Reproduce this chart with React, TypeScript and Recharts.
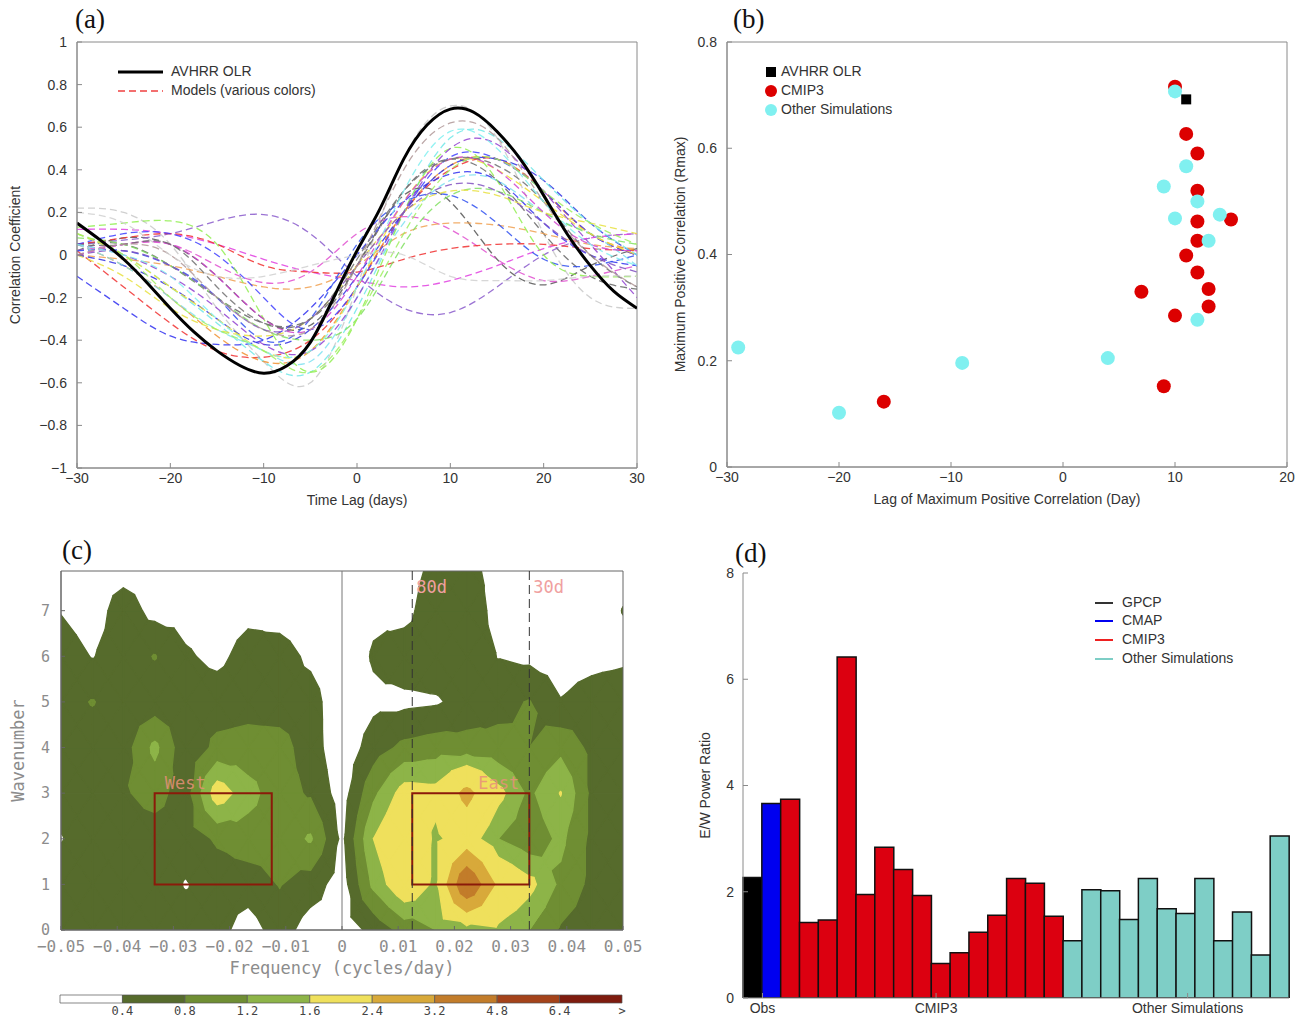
import React from 'react';
import * as R from 'recharts';

const RR: any = R;
const { LineChart, Line, XAxis, YAxis, ScatterChart, Scatter, BarChart, Bar, Cell, ReferenceLine, ReferenceArea, Label } = RR;

const SANS = '"Liberation Sans", Arial, Helvetica, sans-serif';
const MONO = '"DejaVu Sans Mono", monospace';
const SERIF = '"Liberation Serif", "Times New Roman", serif';
const TXT = '#333';
const FRAME = '#8a8a8a';
const fmt = (v: number) => String(v).replace('-', '\u2212');

// ---------------- Panel (a) data ----------------
const lagFine = [-30, -27.5, -25, -22.5, -20, -17.5, -15, -12.5, -10, -7.5, -5, -2.5, 0, 2.5, 5, 7.5, 10, 12.5, 15, 17.5, 20, 22.5, 25, 27.5, 30];
const avhrrOLR = [0.15, 0.07, -0.02, -0.13, -0.25, -0.36, -0.45, -0.52, -0.555, -0.52, -0.41, -0.2, 0.02, 0.22, 0.45, 0.61, 0.685, 0.67, 0.58, 0.45, 0.28, 0.1, -0.05, -0.17, -0.25];
const lagCoarse = [-30, -25, -20, -15, -10, -5, 0, 5, 10, 15, 20, 25, 30];
const m01 = [0.22, 0.2, 0.05, -0.25, -0.5, -0.6, -0.15, 0.45, 0.7, 0.55, 0.1, -0.2, -0.25];
const m02 = [0.02, 0.08, 0.05, -0.1, -0.3, -0.33, -0.05, 0.28, 0.25, -0.02, -0.14, -0.05, 0.03];
const m03 = [0.05, 0.05, -0.05, -0.2, -0.32, -0.3, -0.05, 0.3, 0.45, 0.35, 0.1, -0.1, -0.16];
const m04 = [0.05, 0.07, 0.1, 0.16, 0.19, 0.1, -0.1, -0.25, -0.27, -0.15, 0.0, 0.08, 0.1];
const m05 = [0.12, 0.12, 0.1, 0.05, -0.02, -0.08, -0.12, -0.15, -0.12, -0.05, 0.03, 0.08, 0.1];
const m06 = [0.02, 0.05, 0.05, -0.05, -0.13, -0.08, 0.1, 0.18, 0.12, -0.02, -0.12, -0.1, -0.05];
const m07 = [0.05, 0.08, 0.1, 0.05, -0.05, -0.08, -0.08, -0.02, 0.03, 0.05, 0.05, 0.03, 0.02];
const m08 = [0.02, -0.15, -0.32, -0.45, -0.48, -0.4, -0.15, 0.2, 0.4, 0.45, 0.3, 0.1, 0.0];
const m09 = [0.0, -0.02, -0.05, -0.1, -0.15, -0.15, -0.05, 0.1, 0.15, 0.14, 0.1, 0.05, 0.03];
const m10 = [0.05, -0.05, -0.2, -0.38, -0.5, -0.45, -0.15, 0.2, 0.42, 0.45, 0.3, 0.1, 0.02];
const m11 = [-0.1, -0.25, -0.38, -0.42, -0.4, -0.25, 0.0, 0.25, 0.38, 0.35, 0.15, 0.0, -0.05];
const m12 = [0.05, 0.1, 0.1, 0.0, -0.2, -0.35, -0.15, 0.2, 0.46, 0.45, 0.3, 0.1, 0.0];
const m13 = [0.02, 0.02, -0.05, -0.2, -0.4, -0.3, 0.05, 0.25, 0.28, 0.15, -0.02, -0.05, 0.0];
const m14 = [0.0, -0.05, -0.15, -0.3, -0.42, -0.35, -0.1, 0.2, 0.42, 0.45, 0.35, 0.15, 0.0];
const m15 = [0.1, 0.0, -0.15, -0.32, -0.5, -0.55, -0.25, 0.2, 0.55, 0.55, 0.35, 0.15, 0.0];
const m16 = [0.05, -0.05, -0.2, -0.35, -0.45, -0.5, -0.2, 0.15, 0.35, 0.35, 0.2, 0.1, -0.05];
const m17 = [0.13, 0.15, 0.16, 0.05, -0.3, -0.55, -0.3, 0.2, 0.5, 0.35, 0.0, -0.1, -0.1];
const m18 = [0.08, 0.05, -0.05, -0.2, -0.35, -0.4, -0.3, 0.05, 0.28, 0.3, 0.2, 0.1, 0.05];
const m19 = [0.0, -0.1, -0.25, -0.35, -0.38, -0.3, -0.05, 0.2, 0.3, 0.28, 0.2, 0.15, 0.1];
const m20 = [0.1, 0.0, -0.15, -0.3, -0.45, -0.45, -0.15, 0.25, 0.45, 0.4, 0.25, 0.1, 0.0];
const m21 = [0.05, 0.0, -0.1, -0.25, -0.42, -0.45, -0.2, 0.2, 0.5, 0.52, 0.3, 0.05, -0.2];
const m22 = [0.0, 0.02, -0.05, -0.2, -0.35, -0.3, -0.05, 0.2, 0.33, 0.3, 0.15, 0.0, -0.08];
const m23 = [0.0, 0.05, 0.05, -0.1, -0.3, -0.35, -0.1, 0.25, 0.45, 0.4, 0.2, 0.05, 0.02];
const m24 = [0.05, 0.05, 0.05, -0.15, -0.32, -0.3, -0.02, 0.3, 0.45, 0.42, 0.25, 0.0, -0.15];
const m25 = [0.0, 0.05, 0.0, -0.2, -0.35, -0.35, -0.05, 0.4, 0.62, 0.55, 0.25, 0.0, -0.15];
const m26 = [0.05, 0.0, -0.1, -0.3, -0.45, -0.45, -0.15, 0.3, 0.58, 0.5, 0.25, 0.05, -0.05];
const m27 = [0.1, 0.0, -0.2, -0.35, -0.45, -0.55, -0.3, 0.1, 0.4, 0.45, 0.3, 0.15, 0.05];
const m28 = [0.2, 0.15, 0.0, -0.1, -0.1, -0.05, 0.0, 0.0, -0.1, -0.12, -0.12, -0.1, -0.1];
const modelSeries = [m01, m02, m03, m04, m05, m06, m07, m08, m09, m10, m11, m12, m13, m14, m15, m16, m17, m18, m19, m20, m21, m22, m23, m24, m25, m26, m27, m28];
const modelColors = ['#c8c8c8', '#555555', '#666666', '#8a5acb', '#e040e0', '#e050d0', '#f03030', '#f03030', '#f0a050', '#f09030', '#3030f0', '#4040ff', '#3050f0', '#3030e0', '#70e8e8', '#80e0f0', '#90ee50', '#80e060', '#e8e040', '#f0e030', '#9040d0', '#8050c0', '#d040d0', '#707070', '#b09898', '#80f0f0', '#a0f060', '#d0d0d0'];
const xTicksA = [-30, -20, -10, 0, 10, 20, 30];
const yTicksA = [-1, -0.8, -0.6, -0.4, -0.2, 0, 0.2, 0.4, 0.6, 0.8, 1];

const panelAData = lagFine.map((lag, i) => {
  const row: any = { lag, obs: avhrrOLR[i] };
  const j = lagCoarse.indexOf(lag);
  if (j >= 0) modelSeries.forEach((s, k) => { row['m' + k] = s[j]; });
  return row;
});

// ---------------- Panel (b) data ----------------
const obsLag = [11];
const obsRmax = [0.692];
const cmip3Lag = [10, 11, 12, 12, 12, 15, 12, 11, 12, 7, 13, 13, 10, 9, -16];
const cmip3Rmax = [0.716, 0.627, 0.59, 0.52, 0.462, 0.466, 0.426, 0.398, 0.366, 0.33, 0.335, 0.302, 0.285, 0.152, 0.123];
const otherLag = [10, 11, 9, 12, 10, 14, 13, 12, -29, -9, 4, -20];
const otherRmax = [0.707, 0.566, 0.528, 0.5, 0.468, 0.475, 0.426, 0.277, 0.225, 0.196, 0.205, 0.102];
const xTicksB = [-30, -20, -10, 0, 10, 20];
const yTicksB = [0, 0.2, 0.4, 0.6, 0.8];
const obsPts = obsLag.map((x, i) => ({ lag: x, r: obsRmax[i] }));
const cmip3Pts = cmip3Lag.map((x, i) => ({ lag: x, r: cmip3Rmax[i] }));
const otherPts = otherLag.map((x, i) => ({ lag: x, r: otherRmax[i] }));

// ---------------- Panel (c) data ----------------
const freqs = [-0.05, -0.0444, -0.0389, -0.0333, -0.0278, -0.0222, -0.0167, -0.0111, -0.0056, 0, 0.0056, 0.0111, 0.0167, 0.0222, 0.0278, 0.0333, 0.0389, 0.0444, 0.05];
const waves = [0, 1, 2, 3, 4, 5, 6, 7, 8];
const powerW0 = [0.6, 0.6, 0.6, 0.6, 0.6, 0.55, 0.2, 0.6, 0.2, 0.2, 0.5, 0.95, 1.2, 1.35, 1.5, 1.2, 0.75, 0.6, 0.55];
const powerW1 = [0.6, 0.65, 0.65, 0.65, 0.37, 0.6, 0.6, 0.82, 0.6, 0.2, 1.3, 2.0, 1.5, 4.0, 2.2, 1.75, 1.1, 0.7, 0.6];
const powerW2 = [0.38, 0.6, 0.6, 0.6, 0.6, 0.85, 1.0, 0.95, 1.25, 0.3, 1.6, 2.2, 1.5, 1.9, 1.2, 0.9, 1.3, 0.7, 0.6];
const powerW3 = [0.55, 0.6, 0.75, 0.95, 0.6, 1.85, 1.35, 0.95, 0.75, 0.2, 1.1, 1.8, 1.75, 2.6, 1.75, 1.1, 1.62, 0.7, 0.6];
const powerW4 = [0.6, 0.6, 0.6, 1.3, 0.5, 0.9, 0.95, 0.95, 0.6, 0.1, 0.6, 0.9, 1.0, 0.95, 0.9, 0.8, 1.08, 0.7, 0.65];
const powerW5 = [0.65, 0.82, 0.6, 0.56, 0.6, 0.6, 0.65, 0.6, 0.6, 0.05, 0.3, 0.3, 0.35, 0.55, 0.7, 0.82, 0.42, 0.6, 0.7];
const powerW6 = [0.6, 0.38, 0.6, 0.82, 0.45, 0.3, 0.55, 0.6, 0.3, 0.05, 0.45, 0.65, 0.65, 0.7, 0.38, 0.3, 0.2, 0.25, 0.3];
const powerW7 = [0.38, 0.2, 0.6, 0.27, 0.25, 0.2, 0.3, 0.2, 0.1, 0.05, 0.3, 0.25, 0.7, 0.75, 0.2, 0.2, 0.2, 0.2, 0.41];
const powerW8 = [0.2, 0.2, 0.2, 0.2, 0.2, 0.2, 0.2, 0.2, 0.1, 0.05, 0.2, 0.2, 0.5, 0.55, 0.2, 0.2, 0.2, 0.2, 0.3];
const powerGrid = [powerW0, powerW1, powerW2, powerW3, powerW4, powerW5, powerW6, powerW7, powerW8];
const bandLevels = [0.4, 0.8, 1.2, 1.6, 2.4, 3.2, 4.8, 6.4];
const bandColors = ['#566b2c', '#6f8e33', '#8db448', '#efe05c', '#d8a93a', '#c27c2a', '#a4431a', '#7e1b0e'];
const colorbarLabels = ['0.4', '0.8', '1.2', '1.6', '2.4', '3.2', '4.8', '6.4', '>'];
const colorbarColors = ['#ffffff', ...bandColors];
const freqTicks = [-0.05, -0.04, -0.03, -0.02, -0.01, 0, 0.01, 0.02, 0.03, 0.04, 0.05];
const waveTicks = [0, 1, 2, 3, 4, 5, 6, 7];
const freqDomain = [-0.05, 0.05];
const waveDomain = [0, 7.87];
const period80 = 1 / 80;
const period30 = 1 / 30;
const boxWaves = [1, 3];
const fmtFreq = (v: number) => (v === 0 ? '0' : v.toFixed(2).replace('-', '\u2212'));

type P = { x: number; y: number; v: number };
function clipAbove(poly: P[], L: number): P[] {
  const out: P[] = [];
  for (let i = 0; i < poly.length; i++) {
    const a = poly[i];
    const b = poly[(i + 1) % poly.length];
    const ain = a.v >= L;
    const bin = b.v >= L;
    if (ain) out.push(a);
    if (ain !== bin) {
      const t = (L - a.v) / (b.v - a.v);
      out.push({ x: a.x + t * (b.x - a.x), y: a.y + t * (b.y - a.y), v: L });
    }
  }
  return out;
}

// filled-contour pieces (data units) for each level
const contourPieces: P[][][] = bandLevels.map((L) => {
  const pieces: P[][] = [];
  for (let j = 0; j < waves.length - 1; j++) {
    for (let i = 0; i < freqs.length - 1; i++) {
      const p00 = { x: freqs[i], y: waves[j], v: powerGrid[j][i] };
      const p10 = { x: freqs[i + 1], y: waves[j], v: powerGrid[j][i + 1] };
      const p01 = { x: freqs[i], y: waves[j + 1], v: powerGrid[j + 1][i] };
      const p11 = { x: freqs[i + 1], y: waves[j + 1], v: powerGrid[j + 1][i + 1] };
      const c = { x: (p00.x + p10.x) / 2, y: (p00.y + p01.y) / 2, v: (p00.v + p10.v + p01.v + p11.v) / 4 };
      const tris = [[p00, p10, c], [p10, p11, c], [p11, p01, c], [p01, p00, c]];
      tris.forEach((t) => {
        const poly = clipAbove(t, L);
        if (poly.length >= 3) pieces.push(poly);
      });
    }
  }
  return pieces;
});
const gridNodes = freqs.flatMap((f) => waveTicks.map((w) => ({ f, w })));

function ContourLayer() {
  const xs = RR.useXAxisScale ? RR.useXAxisScale(0) : undefined;
  const ys = RR.useYAxisScale ? RR.useYAxisScale(0) : undefined;
  const plot = RR.usePlotArea ? RR.usePlotArea() : undefined;
  const off = RR.useOffset ? RR.useOffset() : undefined;
  const cw = RR.useChartWidth ? RR.useChartWidth() : undefined;
  const ch = RR.useChartHeight ? RR.useChartHeight() : undefined;
  let sx: any = null;
  let sy: any = null;
  const ok = (s: any, a: number, b: number) => typeof s === 'function' && Number.isFinite(s(a)) && Number.isFinite(s(b)) && s(a) !== s(b);
  if (ok(xs, freqDomain[0], freqDomain[1]) && ok(ys, waveDomain[0], waveDomain[1])) {
    sx = xs; sy = ys;
  } else {
    let box: any = null;
    if (plot && plot.width) box = { x: plot.x, y: plot.y, w: plot.width, h: plot.height };
    else if (off && cw) box = { x: off.left, y: off.top, w: cw - off.left - off.right, h: ch - off.top - off.bottom };
    if (!box) return null;
    sx = (v: number) => box.x + ((v - freqDomain[0]) / (freqDomain[1] - freqDomain[0])) * box.w;
    sy = (v: number) => box.y + box.h - ((v - waveDomain[0]) / (waveDomain[1] - waveDomain[0])) * box.h;
  }
  const x0 = sx(freqDomain[0]);
  const x1 = sx(freqDomain[1]);
  const y0 = sy(waveDomain[1]);
  const y1 = sy(waveDomain[0]);
  return (
    <g className="contour-layer">
      <defs>
        <clipPath id="contourClip">
          <rect x={Math.min(x0, x1)} y={Math.min(y0, y1)} width={Math.abs(x1 - x0)} height={Math.abs(y1 - y0)} />
        </clipPath>
      </defs>
      <g clipPath="url(#contourClip)">
        {contourPieces.map((pieces, li) =>
          pieces.map((poly, pi) => (
            <path
              key={li + '-' + pi}
              d={'M' + poly.map((p) => sx(p.x).toFixed(2) + ',' + sy(p.y).toFixed(2)).join('L') + 'Z'}
              fill={bandColors[li]}
              stroke={bandColors[li]}
              strokeWidth={1.3}
              strokeLinejoin="round"
            />
          ))
        )}
      </g>
    </g>
  );
}

// ---------------- Panel (d) data ----------------
const obsRatios = [2.27, 3.66];
const obsColors = ['#000000', '#0000f0'];
const cmip3Ratios = [3.74, 1.42, 1.47, 6.42, 1.95, 2.84, 2.42, 1.93, 0.65, 0.85, 1.24, 1.56, 2.25, 2.16, 1.54];
const otherRatios = [1.08, 2.04, 2.02, 1.48, 2.25, 1.68, 1.59, 2.25, 1.08, 1.62, 0.81, 3.05];
const cmip3Color = '#dc0010';
const otherColor = '#7ecec6';
const groupLabels = ['Obs', 'CMIP3', 'Other Simulations'];
const groupLabelPos = [1, 9.9, 22.8];
const barRows = [
  ...obsRatios.map((v, i) => ({ v, color: obsColors[i] })),
  ...cmip3Ratios.map((v) => ({ v, color: cmip3Color })),
  ...otherRatios.map((v) => ({ v, color: otherColor })),
].map((r, i) => ({ ...r, id: 'b' + i }));

const tickStyle = { fill: TXT, fontSize: 14, fontFamily: SANS };
const labelStyle = { fill: TXT, fontSize: 14, fontFamily: SANS, textAnchor: 'middle' } as any;
const cTick = { fill: '#8c8c8c', fontSize: 16, fontFamily: MONO };
const cTitle = { fill: '#8c8c8c', fontSize: 17, fontFamily: MONO, textAnchor: 'middle' } as any;

function PanelA() {
  return (
    <LineChart width={650} height={520} data={panelAData} margin={{ top: 42, right: 13, bottom: 0, left: 0 }}>
      <XAxis dataKey="lag" type="number" domain={[-30, 30]} ticks={xTicksA} tickFormatter={fmt} height={52}
        tickSize={-5} tickMargin={10} stroke={FRAME} tick={tickStyle} allowDataOverflow>
        <Label value="Time Lag (days)" position="insideBottom" offset={15} style={labelStyle} />
      </XAxis>
      <YAxis type="number" domain={[-1, 1]} ticks={yTicksA} tickFormatter={fmt} width={77}
        tickSize={-5} tickMargin={15} stroke={FRAME} tick={tickStyle} allowDataOverflow>
        <Label value="Correlation Coefficient" position="insideLeft" angle={-90} offset={15} style={labelStyle} />
      </YAxis>
      <ReferenceArea x1={-30} x2={30} y1={-1} y2={1} fill="none" stroke={FRAME} strokeWidth={1} />
      {modelSeries.map((_, k) => (
        <Line key={'m' + k} dataKey={'m' + k} type="natural" stroke={modelColors[k]} strokeWidth={1.3}
          strokeDasharray="7 4" dot={false} connectNulls isAnimationActive={false} strokeOpacity={0.85} />
      ))}
      <Line dataKey="obs" type="natural" stroke="#000" strokeWidth={3} dot={false} isAnimationActive={false} />
    </LineChart>
  );
}

const circleShape = (color: string) => (p: any) => <circle cx={p.cx} cy={p.cy} r={7} fill={color} />;
const squareShape = (p: any) => <rect x={p.cx - 5} y={p.cy - 5} width={10} height={10} fill="#000" />;

function PanelB() {
  return (
    <ScatterChart width={654} height={520} margin={{ top: 42, right: 17, bottom: 0, left: 0 }}>
      <XAxis dataKey="lag" type="number" domain={[-30, 20]} ticks={xTicksB} tickFormatter={fmt} height={53}
        tickSize={-5} tickMargin={10} stroke={FRAME} tick={tickStyle} allowDataOverflow>
        <Label value="Lag of Maximum Positive Correlation (Day)" position="insideBottom" offset={16} style={labelStyle} />
      </XAxis>
      <YAxis dataKey="r" type="number" domain={[0, 0.8]} ticks={yTicksB} tickFormatter={fmt} width={77}
        tickSize={-5} tickMargin={15} stroke={FRAME} tick={tickStyle} allowDataOverflow>
        <Label value="Maximum Positive Correlation (Rmax)" position="insideLeft" angle={-90} offset={30} style={labelStyle} />
      </YAxis>
      <ReferenceArea x1={-30} x2={20} y1={0} y2={0.8} fill="none" stroke={FRAME} strokeWidth={1} />
      <Scatter name="CMIP3" data={cmip3Pts} fill="#dc0000" shape={circleShape('#dc0000')} isAnimationActive={false} />
      <Scatter name="Other Simulations" data={otherPts} fill="#80f0f0" shape={circleShape('#80f0f0')} isAnimationActive={false} />
      <Scatter name="AVHRR OLR" data={obsPts} fill="#000" shape={squareShape} isAnimationActive={false} />
    </ScatterChart>
  );
}

function PanelC() {
  const txt = { fill: '#f0a0a0', fontSize: 17, fontFamily: MONO };
  const boxTxt = { fill: '#e8907a', fontSize: 17, fontFamily: MONO, fillOpacity: 0.85 };
  return (
    <ScatterChart width={650} height={450} margin={{ top: 41, right: 27, bottom: 0, left: 0 }}>
      <XAxis dataKey="f" type="number" domain={freqDomain} ticks={freqTicks} tickFormatter={fmtFreq} height={50}
        tickSize={-4} tickMargin={15} stroke="#666" tick={cTick} allowDataOverflow interval={0}>
        <Label value="Frequency (cycles/day)" position="insideBottom" offset={6} style={cTitle} />
      </XAxis>
      <YAxis dataKey="w" type="number" domain={waveDomain} ticks={waveTicks} width={61}
        tickSize={-4} tickMargin={15} stroke="#666" tick={{ ...cTick, fontSize: 15 }} allowDataOverflow>
        <Label value="Wavenumber" position="insideLeft" angle={-90} offset={18} style={cTitle} />
      </YAxis>
      <ContourLayer />
      <Scatter data={gridNodes} shape={() => <g />} isAnimationActive={false} />
      <ReferenceLine x={0} stroke="#777" strokeWidth={1} />
      <ReferenceLine x={period80} stroke="#333" strokeDasharray="9 5" strokeWidth={1}
        label={<Label value="80d" position="insideTopLeft" offset={4} dy={6} {...txt} />} />
      <ReferenceLine x={period30} stroke="#333" strokeDasharray="9 5" strokeWidth={1}
        label={<Label value="30d" position="insideTopLeft" offset={4} dy={6} {...txt} />} />
      <ReferenceArea x1={-period30} x2={-period80} y1={boxWaves[0]} y2={boxWaves[1]} fill="none" stroke="#8b1a0a" strokeWidth={2}
        label={<Label value="West" position="top" offset={4} dx={-28} {...boxTxt} />} />
      <ReferenceArea x1={period80} x2={period30} y1={boxWaves[0]} y2={boxWaves[1]} fill="none" stroke="#8b1a0a" strokeWidth={2}
        label={<Label value="East" position="top" offset={4} dx={28} {...boxTxt} />} />
      <ReferenceArea x1={freqDomain[0]} x2={freqDomain[1]} y1={waveDomain[0]} y2={waveDomain[1]} fill="none" stroke="#666" strokeWidth={1} />
    </ScatterChart>
  );
}

const colorbarRow: any = { name: 'cb' };
colorbarColors.forEach((_, i) => { colorbarRow['s' + i] = 1; });

function Colorbar() {
  return (
    <BarChart width={650} height={30} layout="vertical" data={[colorbarRow]} margin={{ top: 7, right: 28, bottom: 0, left: 60 }} barCategoryGap={0}>
      <XAxis type="number" domain={[0, 9]} ticks={[1, 2, 3, 4, 5, 6, 7, 8, 9]} tickFormatter={(v: number) => colorbarLabels[v - 1]}
        height={15} axisLine={false} tickLine={false} tickSize={0} tickMargin={3} tick={{ fill: '#444', fontSize: 12, fontFamily: MONO }} interval={0} />
      <YAxis type="category" dataKey="name" hide />
      {colorbarColors.map((c, i) => (
        <Bar key={i} dataKey={'s' + i} stackId="cb" fill={c} stroke="#555" strokeWidth={0.7} isAnimationActive={false} />
      ))}
    </BarChart>
  );
}

function PanelD() {
  return (
    <BarChart width={654} height={489} data={barRows} margin={{ top: 43, right: 15, bottom: 0, left: 0 }} barCategoryGap={0} barGap={0}>
      <XAxis xAxisId="cat" dataKey="id" type="category" orientation="top" hide />
      <XAxis xAxisId="grp" type="number" domain={[0, barRows.length]} ticks={groupLabelPos}
        tickFormatter={(v: number) => groupLabels[groupLabelPos.indexOf(v)]} height={21} tickSize={-5} tickMargin={10}
        stroke={FRAME} tick={{ ...tickStyle, fontSize: 14 }} allowDataOverflow interval={0} />
      <YAxis type="number" domain={[0, 8]} ticks={[0, 2, 4, 6, 8]} width={93} tickSize={-5} tickMargin={14}
        stroke={FRAME} tick={tickStyle} allowDataOverflow>
        <Label value="E/W Power Ratio" position="insideLeft" angle={-90} offset={55} style={labelStyle} />
      </YAxis>
      <ReferenceArea xAxisId="grp" x1={0} x2={barRows.length} y1={0} y2={8} fill="none" stroke={FRAME} strokeWidth={1} />
      <Bar xAxisId="cat" dataKey="v" stroke="#111" strokeWidth={1.5} isAnimationActive={false}>
        {barRows.map((r, i) => <Cell key={i} fill={r.color} />)}
      </Bar>
    </BarChart>
  );
}

const legendText = { fontFamily: SANS, fontSize: 14, fill: TXT } as any;

function PanelLabel({ text, left, top }: { text: string; left: number; top: number }) {
  return <div style={{ position: 'absolute', left, top, fontFamily: SERIF, fontSize: 27, lineHeight: '27px', color: '#111' }}>{text}</div>;
}

export default function App() {
  return (
    <div style={{ position: 'absolute', left: 0, top: 0, width: 1304, height: 1019, background: '#fff', overflow: 'hidden' }}>
      <div style={{ position: 'absolute', left: 0, top: 0 }}><PanelA /></div>
      <div style={{ position: 'absolute', left: 650, top: 0 }}><PanelB /></div>
      <div style={{ position: 'absolute', left: 0, top: 530 }}><PanelC /></div>
      <div style={{ position: 'absolute', left: 0, top: 988 }}><Colorbar /></div>
      <div style={{ position: 'absolute', left: 650, top: 530 }}><PanelD /></div>

      <svg style={{ position: 'absolute', left: 110, top: 60 }} width={260} height={42}>
        <line x1={8} x2={53} y1={12} y2={12} stroke="#000" strokeWidth={3} />
        <text x={61} y={12} dominantBaseline="middle" {...legendText}>AVHRR OLR</text>
        <line x1={8} x2={53} y1={31} y2={31} stroke="#f04040" strokeWidth={1.3} strokeDasharray="7 4" />
        <text x={61} y={31} dominantBaseline="middle" {...legendText}>Models (various colors)</text>
      </svg>

      <svg style={{ position: 'absolute', left: 760, top: 60 }} width={200} height={60}>
        <rect x={6} y={7} width={10} height={10} fill="#000" />
        <text x={21} y={12} dominantBaseline="middle" {...legendText}>AVHRR OLR</text>
        <circle cx={11} cy={31} r={6} fill="#dc0000" />
        <text x={21} y={31} dominantBaseline="middle" {...legendText}>CMIP3</text>
        <circle cx={11} cy={50} r={6} fill="#80f0f0" />
        <text x={21} y={50} dominantBaseline="middle" {...legendText}>Other Simulations</text>
      </svg>

      <svg style={{ position: 'absolute', left: 1090, top: 592 }} width={180} height={80}>
        <line x1={5} x2={23} y1={11} y2={11} stroke="#333" strokeWidth={2} />
        <text x={32} y={11} dominantBaseline="middle" {...legendText}>GPCP</text>
        <line x1={5} x2={23} y1={29} y2={29} stroke="#0000f0" strokeWidth={2} />
        <text x={32} y={29} dominantBaseline="middle" {...legendText}>CMAP</text>
        <line x1={5} x2={23} y1={48} y2={48} stroke="#ee2020" strokeWidth={2} />
        <text x={32} y={48} dominantBaseline="middle" {...legendText}>CMIP3</text>
        <line x1={5} x2={23} y1={67} y2={67} stroke="#7ecec6" strokeWidth={2} />
        <text x={32} y={67} dominantBaseline="middle" {...legendText}>Other Simulations</text>
      </svg>

      <PanelLabel text="(a)" left={75} top={6} />
      <PanelLabel text="(b)" left={733} top={6} />
      <PanelLabel text="(c)" left={62} top={537} />
      <PanelLabel text="(d)" left={735} top={540} />
    </div>
  );
}
